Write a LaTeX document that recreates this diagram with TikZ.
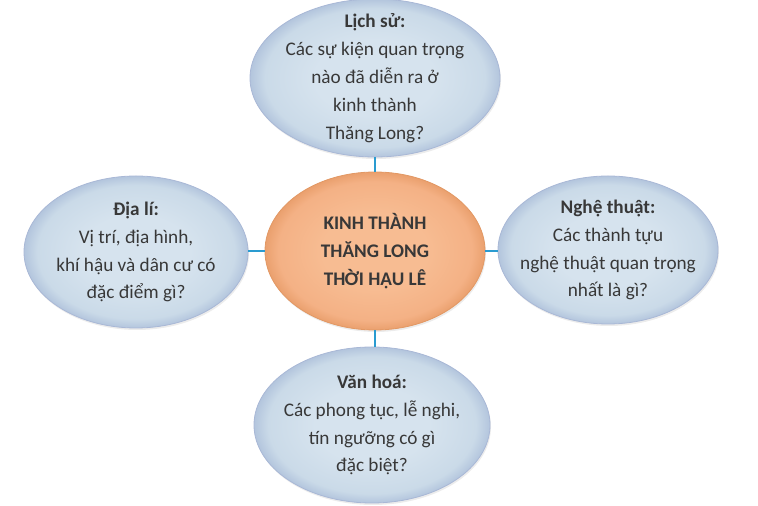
\documentclass[tikz,border=0pt]{standalone}
\usepackage{fontspec}
\setmainfont{Carlito}
\usetikzlibrary{shapes.geometric,shadows}
\definecolor{bluein}{HTML}{D6E3EE}
\definecolor{bluemid}{HTML}{CADAE8}
\definecolor{blueout}{HTML}{B3C5DD}
\definecolor{bluerimline}{HTML}{A9B8D6}
\definecolor{orangein}{HTML}{F7BC92}
\definecolor{orangemid}{HTML}{F4B185}
\definecolor{orangeout}{HTML}{EAA06E}
\definecolor{orangerimline}{HTML}{E29864}
\definecolor{linkblue}{HTML}{2A9BD0}
\definecolor{textgray}{HTML}{383838}
\pgfdeclareradialshading{bluerim}{\pgfpoint{0bp}{0bp}}{color(0bp)=(bluein); color(12bp)=(bluein); color(22bp)=(bluemid); color(25bp)=(blueout); color(50bp)=(blueout)}
\pgfdeclareradialshading{orangerim}{\pgfpoint{0bp}{0bp}}{color(0bp)=(orangein); color(12bp)=(orangein); color(22bp)=(orangemid); color(25bp)=(orangeout); color(50bp)=(orangeout)}
\tikzset{
  bubble/.style={ellipse, inner sep=0pt, line width=0.8bp,
    drop shadow={shadow xshift=1bp, shadow yshift=-2bp, opacity=0.15, fill=gray}},
  bubbletext/.style={align=center, text=textgray, inner sep=0pt,
    font=\fontsize{19.3}{28}\selectfont},
  topic/.style={bubble, shading=bluerim, draw=bluerimline},
  hub/.style={bubble, shading=orangerim, draw=orangerimline},
  link/.style={draw=linkblue, line width=2bp}
}
\begin{document}
\begin{tikzpicture}[x=1bp,y=1bp]
	\useasboundingbox (0,0) rectangle (758,506);
	%\draw[gray!30] (0,0) grid[step=50] (758,506);
	\node[hub, minimum width=220bp, minimum height=158bp,
		label={[bubbletext, font=\fontsize{19.3}{28}\selectfont\bfseries]center:{KINH THÀNH\\THĂNG LONG\\THỜI HẬU LÊ}}]
		(kinhthanh) at (375,255) {};
	
	\node[topic, minimum width=250bp, minimum height=158bp,
		label={[bubbletext]center:{\textbf{Lịch sử:}\\Các sự kiện quan trọng\\nào đã diễn ra ở\\kinh thành\\Thăng Long?}}]
		(lichsu) at (375,428) {};
	\node[topic, minimum width=224bp, minimum height=152bp,
		label={[bubbletext]center:{\textbf{Địa lí:}\\Vị trí, địa hình,\\khí hậu và dân cư có\\đặc điểm gì?}}]
		(diali) at (136,254) {};
	\node[topic, minimum width=220bp, minimum height=148bp,
		label={[bubbletext]center:{\textbf{Nghệ thuật:}\\Các thành tựu\\nghệ thuật quan trọng\\nhất là gì?}}]
		(nghethuat) at (608,256) {};
	\node[topic, minimum width=236bp, minimum height=156bp,
		label={[bubbletext]center:{\textbf{Văn hoá:}\\Các phong tục, lễ nghi,\\tín ngưỡng có gì\\đặc biệt?}}]
		(vanhoa) at (372,81) {};
	
	\draw[link] (kinhthanh.north) -- (kinhthanh.north |- lichsu.south);
	\draw[link] (kinhthanh.west) -- (kinhthanh.west -| diali.east);
	\draw[link] (kinhthanh.east) -- (kinhthanh.east -| nghethuat.west);
	\draw[link] (kinhthanh.south) -- (kinhthanh.south |- vanhoa.north);
\end{tikzpicture}
\end{document}
